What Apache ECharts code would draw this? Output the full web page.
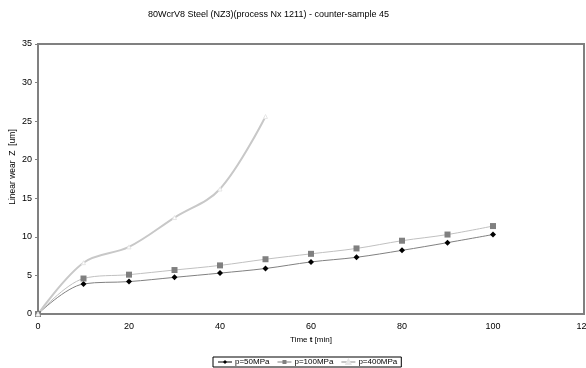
<!DOCTYPE html>
<html><head><meta charset="utf-8">
<script src="https://cdn.jsdelivr.net/npm/echarts@6/dist/echarts.min.js"></script>
<style>html,body{margin:0;padding:0;background:#fff}#c{width:586px;height:368px}</style>
</head><body><div id="c"></div>
<script>
const timeMin = [0, 10, 20, 30, 40, 50, 60, 70, 80, 90, 100];
const p50 = [0, 3.9, 4.2, 4.75, 5.3, 5.9, 6.75, 7.35, 8.25, 9.25, 10.3];
const p100 = [0, 4.6, 5.1, 5.7, 6.3, 7.1, 7.8, 8.5, 9.5, 10.3, 11.4];
const time400 = [0, 10, 20, 30, 40, 50];
const p400 = [0, 6.65, 8.7, 12.5, 16.2, 25.6];
const names = ['p=50MPa', 'p=100MPa', 'p=400MPa'];

const font = 'Liberation Sans, Arial, sans-serif';
const chart = echarts.init(document.getElementById('c'));
chart.setOption({
  animation: false,
  title: {
    text: '80WcrV8 Steel (NZ3)(process Nx 1211) - counter-sample 45',
    left: 143, top: 5,
    textStyle: {fontFamily: font, fontSize: 9, fontWeight: 'normal', color: '#000'}
  },
  grid: {left: 38, right: 2, top: 44, bottom: 54, containLabel: false,
    outerBoundsMode: 'none',
    show: true, borderColor: '#808080', borderWidth: 2},
  xAxis: {
    type: 'value', min: 0, max: 120, interval: 20,
    name: 'Time {b|t} [min]', nameLocation: 'middle', nameGap: 21,
    nameTextStyle: {fontFamily: font, fontSize: 8, color: '#000',
      rich: {b: {fontFamily: font, fontSize: 8, fontWeight: 'bold', color: '#000'}}},
    axisLine: {show: true, lineStyle: {color: '#808080', width: 2}},
    axisTick: {show: false},
    splitLine: {show: false},
    axisLabel: {fontFamily: font, fontSize: 9, color: '#000', margin: 8}
  },
  yAxis: {
    type: 'value', min: 0, max: 35, interval: 5,
    name: 'Linear wear  Z  [um]', nameLocation: 'middle', nameGap: 21,
    nameMoveOverlap: false,
    nameTextStyle: {fontFamily: font, fontSize: 8.5, color: '#000', padding: [0, 0, 0, 24]},
    axisLine: {show: true, lineStyle: {color: '#808080', width: 2}},
    axisTick: {show: true, inside: false, length: 3, lineStyle: {color: '#808080'}},
    splitLine: {show: false},
    axisLabel: {fontFamily: font, fontSize: 9, color: '#000', margin: 6}
  },
  legend: {
    top: 357, left: 213, itemGap: 7, itemWidth: 14, itemHeight: 5,
    borderColor: '#000', borderWidth: 1, padding: [1, 4], borderRadius: 0,
    textStyle: {fontFamily: font, fontSize: 8, color: '#000', padding: [0, 0, 0, -2]},
    data: names
  },
  series: [
    {name: names[0], type: 'line', smooth: 0.35,
      data: timeMin.map((t, i) => [t, p50[i]]),
      symbol: 'diamond', symbolSize: 6,
      itemStyle: {color: '#000'},
      lineStyle: {color: '#808080', width: 1}},
    {name: names[1], type: 'line', smooth: 0.35,
      data: timeMin.map((t, i) => [t, p100[i]]),
      symbol: 'rect', symbolSize: 6,
      itemStyle: {color: '#808080'},
      lineStyle: {color: '#c0c0c0', width: 1}},
    {name: names[2], type: 'line', smooth: 0.35,
      data: time400.map((t, i) => [t, p400[i]]),
      symbol: 'triangle', symbolSize: 4,
      itemStyle: {color: '#ffffff', borderColor: '#e6e6e6', borderWidth: 1},
      lineStyle: {color: '#c8c8c8', width: 2}}
  ]
});
</script>
</body></html>
